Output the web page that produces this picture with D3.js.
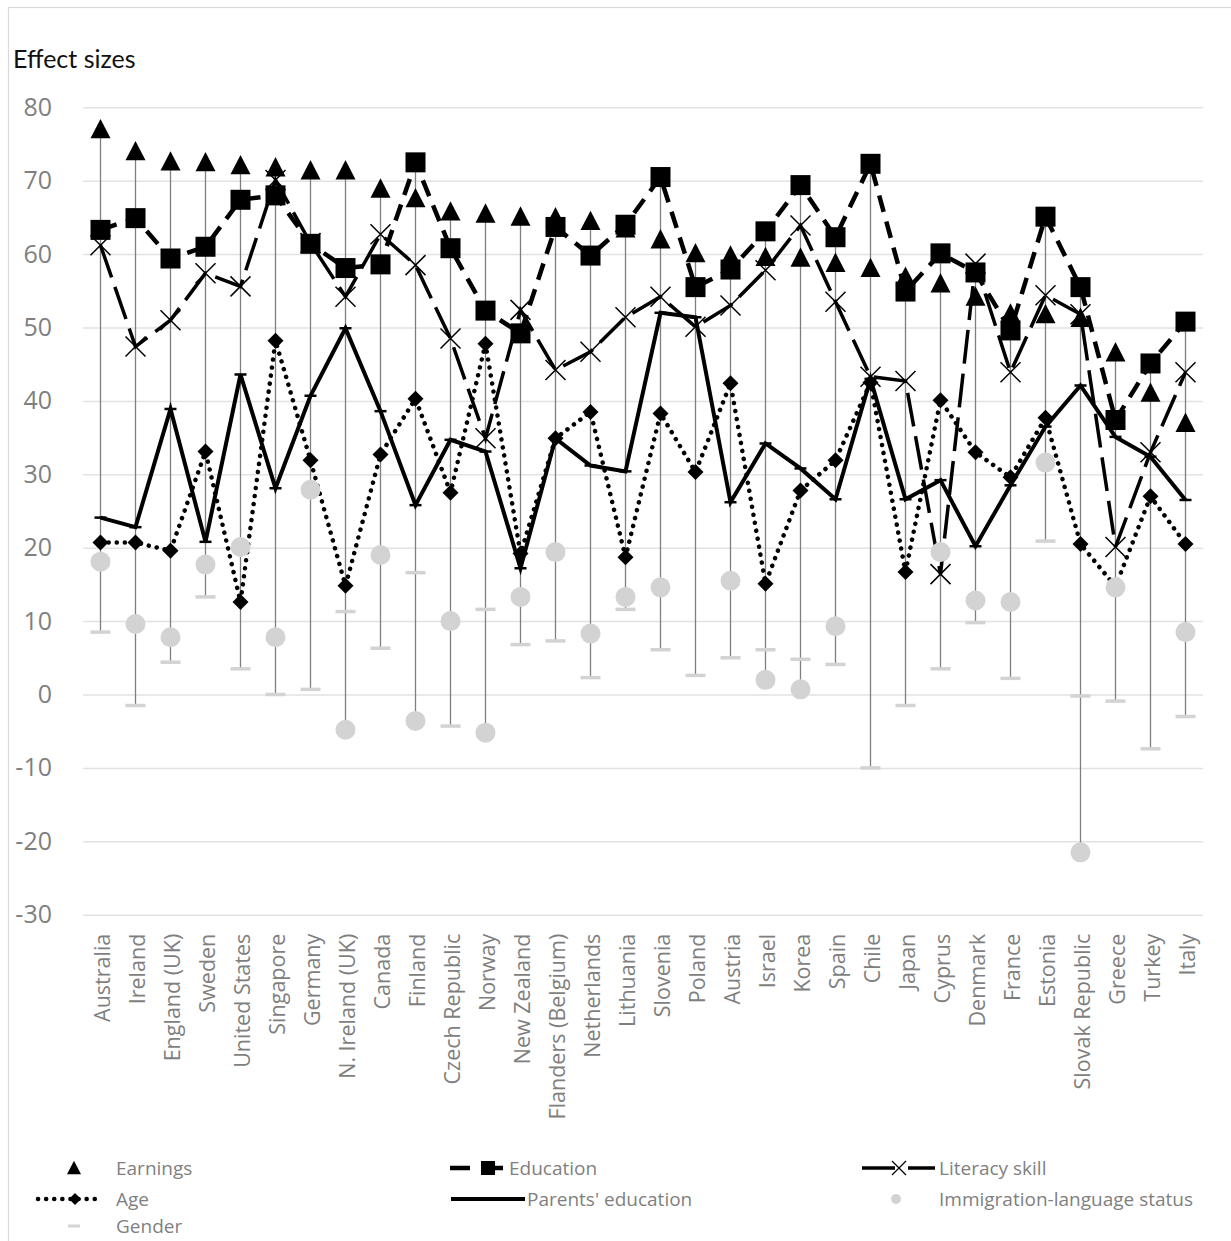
<!DOCTYPE html>
<html><head><meta charset="utf-8">
<script src="https://cdn.jsdelivr.net/npm/d3@7"></script>
<style>
html,body{margin:0;padding:0;background:#fff;}
svg{display:block;}
</style></head>
<body>
<svg id="chart" width="1231" height="1241"></svg>
<script>
const countries = ["Australia","Ireland","England (UK)","Sweden","United States","Singapore","Germany","N. Ireland (UK)","Canada","Finland","Czech Republic","Norway","New Zealand","Flanders (Belgium)","Netherlands","Lithuania","Slovenia","Poland","Austria","Israel","Korea","Spain","Chile","Japan","Cyprus","Denmark","France","Estonia","Slovak Republic","Greece","Turkey","Italy"];
const earnings = [77.0,74.0,72.6,72.5,72.1,71.8,71.4,71.4,68.9,67.6,65.8,65.5,65.1,65.0,64.5,63.5,62.0,60.1,59.8,59.6,59.5,58.8,58.1,56.9,56.0,54.2,51.9,51.8,51.3,46.6,41.1,37.0];
const education = [63.3,64.9,59.4,61.0,67.4,68.0,61.4,58.1,58.6,72.5,60.8,52.3,49.2,63.7,59.8,64.0,70.5,55.5,57.9,63.1,69.4,62.3,72.3,54.9,60.1,57.5,49.6,65.1,55.5,37.4,45.1,50.8];
const literacy = [61.2,47.4,51.0,57.4,55.6,70.1,61.5,54.2,62.7,58.5,48.5,34.9,52.4,44.2,46.7,51.4,54.2,50.1,53.0,57.8,63.9,53.5,43.3,42.7,16.4,58.7,43.9,54.4,51.8,20.1,33.0,43.9];
const age = [20.7,20.7,19.6,33.1,12.6,48.2,31.9,14.8,32.7,40.3,27.5,47.8,19.2,34.9,38.5,18.7,38.3,30.3,42.4,15.1,27.8,31.9,42.5,16.7,40.1,33.0,29.6,37.7,20.5,14.7,27.0,20.5];
const parents = [24.1,22.8,38.9,20.8,43.6,28.1,40.7,49.9,38.6,25.8,34.7,33.1,17.2,34.9,31.2,30.4,52.0,51.4,26.2,34.2,30.8,26.6,43.0,26.6,29.2,20.2,28.5,36.5,42.1,35.1,32.4,26.5];
const immigration = [18.1,9.6,7.8,17.7,20.1,7.8,27.9,-4.8,19.0,-3.6,10.0,-5.2,13.3,19.4,8.3,13.3,14.6,null,15.5,2.0,0.7,9.3,null,null,19.4,12.8,12.6,31.6,-21.5,14.6,null,8.5];
const gender = [8.5,-1.5,4.4,13.3,3.5,0.0,0.7,11.3,6.3,16.6,-4.3,11.6,6.8,7.3,2.3,11.6,6.1,2.6,5.0,6.1,4.8,4.1,-10.0,-1.5,3.5,9.8,2.2,20.9,-0.2,-0.9,-7.4,-3.0];
const yTicks = [-30,-20,-10,0,10,20,30,40,50,60,70,80];
const yTitle = "Effect sizes";

const svg = d3.select("#chart");
const L = 83, R = 1203, T = 107.3, B = 914.7;
const x = d3.scaleBand().domain(countries).range([L, R]);
const cx = c => x(c) + x.bandwidth()/2;
const y = d3.scaleLinear().domain([-30, 80]).range([B, T]);

// outer border
svg.append("rect").attr("x",8.5).attr("y",7.5).attr("width",1240).attr("height",1250)
  .attr("fill","none").attr("stroke","#d9d9d9").attr("stroke-width",1.2);

// title
svg.append("text").attr("x",13).attr("y",68).text(yTitle)
  .attr("font-family","Lato, 'Open Sans', sans-serif").attr("font-size",25).attr("fill","#111");

// y axis with gridlines
const yAxis = svg.append("g").attr("transform",`translate(${L},0)`)
  .call(d3.axisLeft(y).tickValues(yTicks).tickSize(-(R-L)).tickPadding(31).tickFormat(d => String(d)));
yAxis.select(".domain").remove();
yAxis.selectAll(".tick line").attr("stroke","#e2e2e2").attr("stroke-width",1.5);
yAxis.selectAll(".tick text").attr("font-family","'Open Sans', sans-serif").attr("font-size",25).attr("fill","#7f7f7f");

// x labels
const xg = svg.append("g").attr("transform",`translate(0,${B})`)
  .call(d3.axisBottom(x).tickSize(0).tickPadding(0));
xg.select(".domain").remove();
xg.selectAll(".tick text")
  .attr("font-family","'Open Sans', sans-serif").attr("font-size",21.5).attr("fill","#7f7f7f")
  .attr("text-anchor","end").attr("transform","translate(9,19) rotate(-90)").attr("dy","0").attr("y",0).attr("x",0);

const allSeries = [earnings, education, literacy, age, parents, immigration, gender];

// high-low lines
const hl = countries.map((c,i) => {
  const vals = allSeries.map(s => s[i]).filter(v => v != null);
  return {c, hi: d3.max(vals), lo: d3.min(vals)};
});
svg.append("g").selectAll("line").data(hl).join("line")
  .attr("x1",d=>cx(d.c)).attr("x2",d=>cx(d.c)).attr("y1",d=>y(d.hi)).attr("y2",d=>y(d.lo))
  .attr("stroke","#7f7f7f").attr("stroke-width",1.3);

const pts = arr => countries.map((c,i)=>({c, v: arr[i]})).filter(d=>d.v!=null);
const line = d3.line().x(d=>cx(d.c)).y(d=>y(d.v));

const triPath = (s) => `M0,${-s*0.52}L${s/2},${s*0.45}L${-s/2},${s*0.45}Z`;
const diamondPath = (s) => `M0,${-s}L${s},0L0,${s}L${-s},0Z`;

// Earnings triangles
const gE = svg.append("g");
gE.selectAll("path").data(pts(earnings)).join("path")
  .attr("transform",d=>`translate(${cx(d.c)},${y(d.v)})`).attr("d",triPath(20)).attr("fill","#000");

// Education dashed line + squares
const gEd = svg.append("g");
gEd.append("path").datum(pts(education)).attr("d",line).attr("fill","none")
  .attr("stroke","#000").attr("stroke-width",4.5).attr("stroke-dasharray","17,10");
gEd.selectAll("rect").data(pts(education)).join("rect")
  .attr("x",d=>cx(d.c)-10).attr("y",d=>y(d.v)-10).attr("width",20).attr("height",20).attr("fill","#000");

// Literacy long dash line + X
const gL = svg.append("g");
gL.append("path").datum(pts(literacy)).attr("d",line).attr("fill","none")
  .attr("stroke","#000").attr("stroke-width",3.5).attr("stroke-dasharray","34,10");
gL.selectAll("path.x").data(pts(literacy)).join("path").attr("class","x")
  .attr("transform",d=>`translate(${cx(d.c)},${y(d.v)})`)
  .attr("d","M-10,-10L10,10M-10,10L10,-10").attr("stroke","#000").attr("stroke-width",1.5).attr("fill","none");

// Age dotted + diamonds
const gA = svg.append("g");
gA.append("path").datum(pts(age)).attr("d",line).attr("fill","none")
  .attr("stroke","#000").attr("stroke-width",4.5).attr("stroke-linecap","round").attr("stroke-dasharray","0.1,8");
gA.selectAll("path.m").data(pts(age)).join("path").attr("class","m")
  .attr("transform",d=>`translate(${cx(d.c)},${y(d.v)})`).attr("d",diamondPath(8)).attr("fill","#000");

// Parents' education solid + small dash markers
const gP = svg.append("g");
gP.append("path").datum(pts(parents)).attr("d",line).attr("fill","none")
  .attr("stroke","#000").attr("stroke-width",4).attr("stroke-linejoin","miter");
gP.selectAll("line").data(pts(parents)).join("line")
  .attr("x1",d=>cx(d.c)-6).attr("x2",d=>cx(d.c)+6).attr("y1",d=>y(d.v)).attr("y2",d=>y(d.v))
  .attr("stroke","#000").attr("stroke-width",2.5);

// Immigration circles
svg.append("g").selectAll("circle").data(pts(immigration)).join("circle")
  .attr("cx",d=>cx(d.c)).attr("cy",d=>y(d.v)).attr("r",10).attr("fill","#d3d3d3");

// Gender dashes
svg.append("g").selectAll("line").data(pts(gender)).join("line")
  .attr("x1",d=>cx(d.c)-10).attr("x2",d=>cx(d.c)+10).attr("y1",d=>y(d.v)).attr("y2",d=>y(d.v))
  .attr("stroke","#d3d3d3").attr("stroke-width",3.5);

// Legend
const lg = svg.append("g").attr("font-family","'Open Sans', sans-serif").attr("font-size",19).attr("fill","#7f7f7f");
const legendItems = [
  {name:"Earnings", col:0, row:0, tx:116},
  {name:"Education", col:1, row:0, tx:509},
  {name:"Literacy skill", col:2, row:0, tx:939},
  {name:"Age", col:0, row:1, tx:116},
  {name:"Parents' education", col:1, row:1, tx:527},
  {name:"Immigration-language status", col:2, row:1, tx:939},
  {name:"Gender", col:0, row:2, tx:116}
];
const rowY = [1168, 1199, 1226];
legendItems.forEach(it => {
  const yy = rowY[it.row];
  lg.append("text").attr("x",it.tx).attr("y",yy).attr("dy","0.35em").text(it.name);
  const g = svg.append("g");
  if (it.name==="Earnings") {
    g.append("path").attr("transform",`translate(74,${yy})`).attr("d",triPath(14)).attr("fill","#000");
  } else if (it.name==="Education") {
    g.append("line").attr("x1",450).attr("x2",470).attr("y1",yy).attr("y2",yy).attr("stroke","#000").attr("stroke-width",4.5);
    g.append("rect").attr("x",481).attr("y",yy-7).attr("width",14).attr("height",14).attr("fill","#000");
    g.append("line").attr("x1",481).attr("x2",503).attr("y1",yy).attr("y2",yy).attr("stroke","#000").attr("stroke-width",4.5);
  } else if (it.name==="Literacy skill") {
    g.append("line").attr("x1",862).attr("x2",895).attr("y1",yy).attr("y2",yy).attr("stroke","#000").attr("stroke-width",3.5);
    g.append("line").attr("x1",908).attr("x2",935).attr("y1",yy).attr("y2",yy).attr("stroke","#000").attr("stroke-width",3.5);
    g.append("path").attr("transform",`translate(899,${yy})`).attr("d","M-7,-7L7,7M-7,7L7,-7").attr("stroke","#000").attr("stroke-width",1.3);
  } else if (it.name==="Age") {
    g.append("line").attr("x1",38).attr("x2",102).attr("y1",yy).attr("y2",yy).attr("stroke","#000").attr("stroke-width",4.5)
      .attr("stroke-linecap","round").attr("stroke-dasharray","0.1,8");
    g.append("path").attr("transform",`translate(75,${yy})`).attr("d",diamondPath(6)).attr("fill","#000");
  } else if (it.name==="Parents' education") {
    g.append("line").attr("x1",451).attr("x2",525).attr("y1",yy).attr("y2",yy).attr("stroke","#000").attr("stroke-width",4);
  } else if (it.name==="Immigration-language status") {
    g.append("circle").attr("cx",896).attr("cy",yy).attr("r",5).attr("fill","#d3d3d3");
  } else if (it.name==="Gender") {
    g.append("line").attr("x1",68).attr("x2",80).attr("y1",yy).attr("y2",yy).attr("stroke","#d3d3d3").attr("stroke-width",3);
  }
});
</script>
</body></html>
